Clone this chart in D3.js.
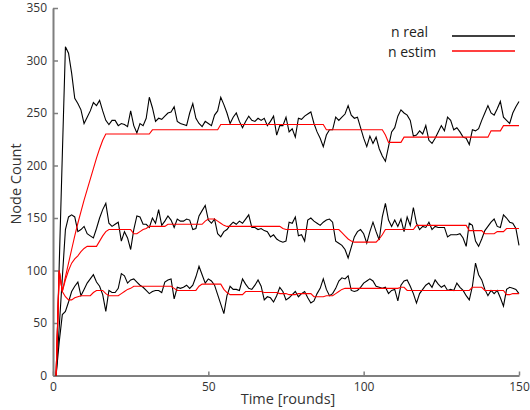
<!DOCTYPE html>
<meta charset="utf-8">
<style>
body { margin: 0; background: #fff; }
svg text { font-family: "Open Sans", "DejaVu Sans", sans-serif; fill: #333; }
.axis path, .axis line { stroke: #7f7f7f; }
.axis path { stroke-width: 2; }
.axis line { stroke-width: 1.5; }
</style>
<script src="https://d3js.org/d3.v7.min.js"></script>
<div id="chart"></div>
<script>
// node count per round, rounds 1..150
var realHigh = [0,105,210,313,307,288,264,259,253,240,246,252,260,257,262,252,243,239,243,243,
  238,240,239,237,252,238,231,240,238,245,265,255,242,245,244,247,250,251,256,242,
  240,239,238,250,259,245,240,237,242,240,238,248,252,265,258,250,240,246,250,242,
  236,242,247,243,242,245,243,245,238,242,247,229,238,238,246,232,235,227,245,244,
  247,249,251,240,232,226,218,229,234,234,246,243,246,249,257,248,245,246,236,226,
  218,228,221,227,216,209,204,218,232,236,247,253,250,248,243,228,229,233,230,238,
  224,221,226,232,238,233,246,243,234,236,232,227,226,220,234,233,235,243,250,257,
  250,248,254,261,246,243,240,250,256,261];
var realMid = [0,46,93,139,151,153,151,137,139,142,135,133,131,140,150,158,164,145,142,144,
  146,128,137,131,120,139,152,151,144,144,141,150,145,158,143,147,152,148,141,149,
  147,147,149,148,139,140,152,157,162,148,145,149,135,132,137,139,143,146,144,147,
  145,149,153,141,141,139,140,138,137,132,134,130,128,127,128,146,145,151,133,134,
  128,148,150,147,145,143,146,148,149,146,128,126,124,120,112,122,132,137,139,135,
  126,137,146,137,129,151,164,148,142,148,142,149,137,151,143,160,145,139,142,141,
  146,139,142,141,141,141,132,134,134,134,135,131,123,145,143,128,123,130,138,142,
  146,149,142,141,153,150,146,145,140,124];
var realLow = [0,32,58,61,70,80,85,89,76,82,88,92,96,89,85,77,61,81,79,79,
  83,97,95,88,91,92,89,86,84,81,78,80,81,81,79,89,91,92,73,84,
  83,84,86,83,86,94,104,96,88,92,90,86,77,68,59,76,85,82,82,81,
  92,87,83,82,86,91,85,72,75,74,70,76,84,80,72,74,77,80,75,78,
  80,74,69,71,78,83,92,82,76,78,83,90,93,92,95,81,80,81,84,88,
  90,92,90,85,84,83,84,78,81,82,71,86,90,91,85,78,69,78,82,86,
  88,84,91,87,84,86,81,82,81,88,84,81,76,72,85,107,96,91,82,76,
  81,78,81,74,66,82,84,83,82,78];

var estimHigh = [0,100,80,94,107,120,133,145,156,167,177,187,197,207,216,224,230,230,230,230,
  230,230,230,230,230,230,230,230,230,230,230,234,234,234,234,234,234,234,234,234,
  234,234,234,234,234,234,234,234,234,234,234,234,234,239,239,239,239,239,239,239,
  239,239,239,239,239,239,239,239,239,239,239,239,239,239,239,239,239,239,239,239,
  239,239,239,239,239,239,239,234,234,234,234,234,234,234,234,234,234,234,234,234,
  234,234,234,234,234,234,229,222,222,222,222,222,227,227,227,227,227,227,227,227,
  227,227,227,227,227,227,227,227,227,227,227,227,227,227,227,227,227,227,227,227,
  233,233,233,233,238,238,238,238,238,238];
var estimMid = [0,100,80,91,100,107,111,114,118,121,123,123,123,123,128,133,137,139,139,139,
  139,139,139,139,139,135,135,137,139,140,142,142,142,142,142,142,144,144,144,144,
  144,144,144,144,144,144,144,144,147,149,149,149,147,145,143,142,142,142,142,142,
  142,142,142,142,142,142,142,142,142,142,142,142,142,140,139,139,139,139,139,139,
  139,139,139,139,139,139,139,139,139,139,139,139,136,133,130,128,127,127,127,127,
  127,127,127,127,130,134,139,139,139,139,139,139,139,139,139,139,143,143,143,143,
  143,143,143,143,143,143,143,143,143,143,143,143,143,138,138,138,138,138,135,135,
  135,135,137,137,137,140,140,140,140,140];
var estimLow = [0,100,80,75,72,72,74,75,76,76,76,76,79,81,81,81,78,76,76,76,
  76,78,80,82,83,85,85,85,85,85,85,85,85,85,85,85,85,85,83,81,
  81,81,81,81,81,81,85,87,87,87,87,87,87,87,82,79,77,77,77,77,
  77,80,80,80,80,80,80,79,79,79,79,79,78,78,78,77,77,77,78,78,
  78,78,78,75,75,75,75,76,76,76,78,80,82,83,83,83,83,83,83,83,
  83,83,83,83,83,83,83,83,83,83,83,84,84,81,81,81,81,81,81,81,
  81,81,81,81,81,81,81,81,81,81,81,81,81,81,84,84,84,84,81,81,
  81,81,81,81,81,77,77,78,78,78];

var realSeries = [realHigh, realMid, realLow];
var estimSeries = [estimHigh, estimMid, estimLow];
var xTicks = [0, 50, 100, 150];
var yTicks = [0, 50, 100, 150, 200, 250, 300, 350];

var W = 530, H = 410;
var svg = d3.select("#chart").append("svg")
    .attr("width", W)
    .attr("height", H);

var x = d3.scaleLinear().domain([0, 150]).range([53, 519]);
var y = d3.scaleLinear().domain([0, 350]).range([375.5, 8]);

// axes, ticks pointing inward
svg.append("g")
    .attr("class", "axis")
    .attr("transform", "translate(0,375.5)")
    .call(d3.axisBottom(x).tickValues(xTicks).tickSizeInner(-4).tickSizeOuter(0).tickPadding(7))
    .call(function(g) { g.selectAll("text").style("font-size", "12px").attr("dy", "0.71em"); });

svg.append("g")
    .attr("class", "axis")
    .attr("transform", "translate(53,0)")
    .call(d3.axisLeft(y).tickValues(yTicks).tickSizeInner(-5).tickSizeOuter(0).tickPadding(6))
    .call(function(g) { g.selectAll("text").style("font-size", "12px"); });

// axis titles
svg.append("text")
    .attr("x", 288)
    .attr("y", 404)
    .attr("text-anchor", "middle")
    .style("font-size", "14.5px")
    .text("Time [rounds]");

svg.append("text")
    .attr("transform", "translate(21,184) rotate(-90)")
    .attr("text-anchor", "middle")
    .style("font-size", "14.5px")
    .text("Node Count");

var line = d3.line()
    .x(function(d, i) { return x(i + 1); })
    .y(function(d) { return y(d); });

svg.selectAll(".real")
  .data(realSeries)
  .enter()
  .append("path")
    .attr("class", "real")
    .attr("d", line)
    .attr("fill", "none")
    .attr("stroke", "#000")
    .attr("stroke-width", 1.1);

svg.selectAll(".estim")
  .data(estimSeries)
  .enter()
  .append("path")
    .attr("class", "estim")
    .attr("d", line)
    .attr("fill", "none")
    .attr("stroke", "#ff0000")
    .attr("stroke-width", 1.1);

// legend
var legend = [
  {label: "n real", color: "#000", tx: 391, ty: 37, ly: 36},
  {label: "n estim", color: "#ff0000", tx: 388, ty: 57, ly: 51}
];
svg.selectAll(".lgtext")
  .data(legend)
  .enter()
  .append("text")
    .attr("x", function(d) { return d.tx; })
    .attr("y", function(d) { return d.ty; })
    .style("font-size", "14px")
    .style("fill", "#222")
    .text(function(d) { return d.label; });
svg.selectAll(".lgline")
  .data(legend)
  .enter()
  .append("line")
    .attr("x1", 452).attr("x2", 515)
    .attr("y1", function(d) { return d.ly; })
    .attr("y2", function(d) { return d.ly; })
    .attr("stroke", function(d) { return d.color; })
    .attr("stroke-width", 1.3);
</script>
